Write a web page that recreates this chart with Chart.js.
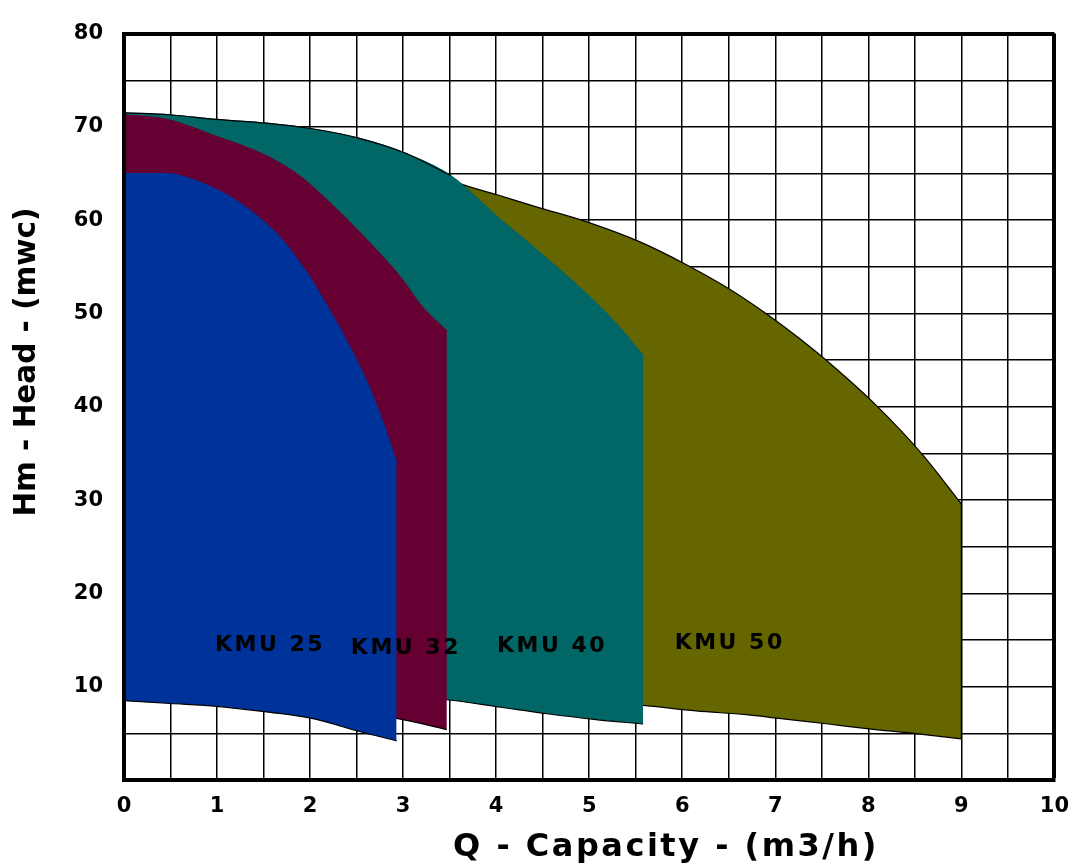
<!DOCTYPE html>
<html>
<head>
<meta charset="utf-8">
<script src="https://cdn.jsdelivr.net/npm/chart.js@4/dist/chart.umd.min.js"></script>
<style>
  html, body { margin: 0; padding: 0; background: #fff; }
  #wrap { width: 1083px; height: 866px; position: relative; }
</style>
</head>
<body>
<div id="wrap"><canvas id="c"></canvas></div>
<script>
// ---------- data ----------
const modelNames = ['KMU 25', 'KMU 32', 'KMU 40', 'KMU 50'];
const capacityTicks = [0, 1, 2, 3, 4, 5, 6, 7, 8, 9, 10];
const headTicks = [10, 20, 30, 40, 50, 60, 70, 80];

// KMU 25 : top curve (max impeller) and bottom curve (min impeller)
const kmu25TopQ = [0, 0.46, 0.81, 1.16, 1.53, 1.70, 1.99, 2.17, 2.38, 2.60, 2.77, 2.93];
const kmu25TopH = [65.0, 65.0, 64.1, 62.4, 59.6, 57.9, 54.0, 51.0, 47.3, 42.9, 38.7, 34.0];
const kmu25BotQ = [0, 0.5, 1.0, 1.53, 2.02, 2.53, 2.93];
const kmu25BotH = [8.5, 8.2, 7.9, 7.3, 6.6, 5.2, 4.2];

// KMU 32
const kmu32TopQ = [0, 0.46, 0.99, 1.53, 1.88, 2.23, 2.60, 2.98, 3.19, 3.47];
const kmu32TopH = [71.3, 70.8, 69.0, 66.9, 64.8, 61.7, 58.0, 53.8, 50.9, 48.1];
const kmu32BotQ = [0, 1.5, 2.93, 3.47];
const kmu32BotH = [9.2, 8.2, 6.6, 5.4];

// KMU 40
const kmu40TopQ = [0, 0.49, 0.99, 1.53, 2.02, 2.52, 3.02, 3.51, 4.02, 4.44, 4.95, 5.30, 5.58];
const kmu40TopH = [71.5, 71.3, 70.8, 70.4, 69.8, 68.8, 67.2, 64.8, 60.3, 56.8, 52.3, 48.8, 45.5];
const kmu40BotQ = [0, 2.0, 3.47, 4.05, 4.55, 5.05, 5.58];
const kmu40BotH = [10.0, 9.3, 8.6, 7.8, 7.1, 6.5, 6.0];

// KMU 50
const kmu50TopQ = [0, 1.0, 2.0, 3.0, 3.59, 4.02, 4.44, 4.95, 5.54, 6.05, 6.51, 6.90, 7.25, 7.57, 8.08, 8.58, 9.0];
const kmu50TopH = [71.3, 70.6, 69.5, 66.8, 64.0, 62.7, 61.4, 59.9, 57.7, 55.2, 52.6, 50.0, 47.4, 44.8, 40.2, 34.9, 29.6];
const kmu50BotQ = [0, 3.0, 5.58, 6.15, 6.69, 7.04, 7.57, 8.08, 8.58, 9.0];
const kmu50BotH = [11.0, 10.0, 8.0, 7.4, 7.0, 6.6, 6.0, 5.4, 4.9, 4.4];

const modelColors = ['#003399', '#660033', '#006666', '#666600'];

// ---------- helpers ----------
function pairs(qs, hs) { return qs.map((q, i) => ({ x: q, y: hs[i] })); }
const noPoints = { pointRadius: 0, pointHoverRadius: 0 };
function edgeLine(name, points, smooth) {
  return Object.assign({
    label: name,
    data: points,
    borderColor: '#000', borderWidth: 1.2,
    cubicInterpolationMode: smooth ? 'monotone' : 'default',
    tension: 0,
    fill: false
  }, noPoints);
}
function topSet(name, color, qs, hs, fillTarget, border) {
  return Object.assign({
    label: name,
    data: pairs(qs, hs),
    backgroundColor: color,
    borderColor: border || color, borderWidth: 1.2,
    cubicInterpolationMode: 'monotone',
    fill: fillTarget
  }, noPoints);
}

const tickFont = { family: '"DejaVu Sans", sans-serif', size: 21, weight: 'bold' };

const textPlugin = {
  id: 'chartTexts',
  afterDraw(chart) {
    const { ctx } = chart;
    const xs = chart.scales.x, ys = chart.scales.y;
    ctx.save();
    ctx.fillStyle = '#000';
    // region labels
    const anchors = [[1.57, 14.4], [3.03, 14.1], [4.60, 14.3], [6.51, 14.7]];
    ctx.font = 'bold 22px "DejaVu Sans", sans-serif';
    ctx.letterSpacing = '2.5px';
    ctx.textAlign = 'center';
    ctx.textBaseline = 'middle';
    anchors.forEach((a, i) => {
      ctx.fillText(modelNames[i], xs.getPixelForValue(a[0]), ys.getPixelForValue(a[1]));
    });
    // x axis title
    ctx.font = 'bold 32px "DejaVu Sans", sans-serif';
    ctx.letterSpacing = '2.5px';
    ctx.textBaseline = 'alphabetic';
    ctx.fillText('Q - Capacity - (m3/h)', 666, 856);
    // y axis title
    ctx.font = 'bold 29.5px "DejaVu Sans", sans-serif';
    ctx.letterSpacing = '0px';
    ctx.translate(35, 362);
    ctx.rotate(-Math.PI / 2);
    ctx.fillText('Hm - Head - (mwc)', 0, 0);
    ctx.restore();
  }
};

// drawing order: index 0 is painted last (on top)
const last = a => a[a.length - 1];
const kmu40ExposedTop = pairs(kmu40TopQ, kmu40TopH).filter(p => p.x <= 3.51);
const datasets = [
  edgeLine(modelNames[0] + ' min', pairs(kmu25BotQ, kmu25BotH), true),                         // 0
  topSet(modelNames[0], modelColors[0], kmu25TopQ, kmu25TopH, '-1'),                           // 1
  edgeLine(modelNames[1] + ' min', pairs(kmu32BotQ, kmu32BotH), true),                         // 2
  topSet(modelNames[1], modelColors[1], kmu32TopQ, kmu32TopH, '-1'),                           // 3
  edgeLine(modelNames[2] + ' min', pairs(kmu40BotQ, kmu40BotH), true),                         // 4
  edgeLine(modelNames[2] + ' outline', kmu40ExposedTop, true),                                  // 5
  topSet(modelNames[2], modelColors[2], kmu40TopQ, kmu40TopH, '-2'),                           // 6
  edgeLine(modelNames[3] + ' min', pairs(kmu50BotQ, kmu50BotH), true),                         // 7
  edgeLine(modelNames[3] + ' end', [{ x: last(kmu50TopQ), y: last(kmu50TopH) },
                                    { x: last(kmu50BotQ), y: last(kmu50BotH) }], false),       // 8
  topSet(modelNames[3], modelColors[3], kmu50TopQ, kmu50TopH, '-2', '#000')                    // 9
];

new Chart(document.getElementById('c'), {
  type: 'line',
  data: { datasets },
  options: {
    responsive: true,
    maintainAspectRatio: false,
    animation: false,
    layout: { padding: { top: 15, right: 23, left: 0, bottom: 0 } },
    plugins: { legend: { display: false }, tooltip: { enabled: false } },
    scales: {
      x: {
        type: 'linear',
        min: 0, max: 10,
        afterFit: s => { s.height = 86; },
        grid: {
          color: '#000',
          lineWidth: c => (c.tick && c.tick.value === 10 ? 4 : 1.5),
          drawTicks: false
        },
        border: { display: true, color: '#000', width: 4, z: 1 },
        ticks: {
          stepSize: 0.5, autoSkip: false, maxRotation: 0, padding: 14,
          color: '#000', font: tickFont,
          callback: v => (capacityTicks.includes(v) ? String(v) : '')
        }
      },
      y: {
        type: 'linear',
        min: 0, max: 80,
        afterFit: s => { s.width = 124; },
        grid: {
          color: '#000',
          lineWidth: c => (c.tick && c.tick.value === 80 ? 4 : 1.5),
          drawTicks: false
        },
        border: { display: true, color: '#000', width: 4, z: 1 },
        ticks: {
          stepSize: 5, autoSkip: false, padding: 21,
          color: '#000', font: tickFont,
          callback: v => (headTicks.includes(v) ? String(v) : '')
        }
      }
    }
  },
  plugins: [textPlugin]
});
</script>
</body>
</html>
